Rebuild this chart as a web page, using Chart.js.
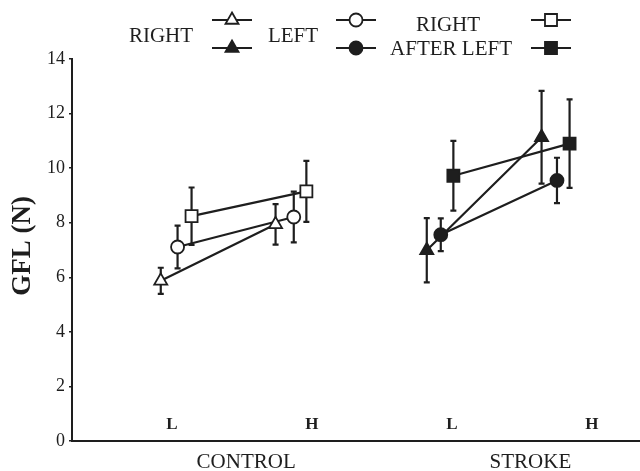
<!DOCTYPE html>
<html>
<head>
<meta charset="utf-8">
<script src="https://cdn.jsdelivr.net/npm/chart.js@4"></script>
<style>
  html, body { margin: 0; padding: 0; background: #fff; overflow: hidden; }
  canvas { display: block; }
</style>
</head>
<body>
<canvas id="chart" width="640" height="471"></canvas>
<script>
// groups and level labels on the x axis
var groups = ['CONTROL', 'STROKE'];
var groupPos = [1.53, 3.56];
var levels = ['L', 'H', 'L', 'H'];
var levelPos = [1, 2, 3, 4];

// x positions of each series (control L, control H, stroke L, stroke H)
var rightX = [0.92, 1.74, 2.82, 3.64];
var leftX = [1.04, 1.87, 2.92, 3.75];
var ralX = [1.14, 1.96, 3.01, 3.84];

// GFL (N) means and error bars
var rightVals = [5.87, 7.94, 6.99, 11.13];
var rightErr = [0.48, 0.74, 1.18, 1.70];
var leftVals = [7.11, 8.21, 7.56, 9.55];
var leftErr = [0.78, 0.93, 0.60, 0.83];
var ralVals = [8.24, 9.15, 9.72, 10.90];
var ralErr = [1.05, 1.12, 1.28, 1.62];

var ink = '#1e1e1e';
var serif = '"Liberation Serif", "DejaVu Serif", serif';

function buildPoints(xs, ys) {
    // control pair, gap, stroke pair
    return [
        {x: xs[0], y: ys[0]}, {x: xs[1], y: ys[1]},
        {x: 2.4, y: null},
        {x: xs[2], y: ys[2]}, {x: xs[3], y: ys[3]}
    ];
}

var fills = ['#fff', '#fff', '#fff', ink, ink];

function makeSet(label, xs, ys, errs, style, radius) {
    return {
        label: label,
        data: buildPoints(xs, ys),
        errors: errs,
        xs: xs,
        ys: ys,
        showLine: true,
        spanGaps: false,
        borderColor: ink,
        borderWidth: 2.2,
        pointStyle: style,
        pointRadius: radius,
        pointBorderWidth: 1.8,
        pointBorderColor: ink,
        pointBackgroundColor: fills
    };
}

var errorBars = {
    id: 'errorBars',
    beforeDatasetsDraw: function (chart) {
        var ctx = chart.ctx, xs = chart.scales.x, ys = chart.scales.y;
        ctx.save();
        ctx.strokeStyle = ink;
        ctx.lineWidth = 2.2;
        chart.data.datasets.forEach(function (ds) {
            ds.ys.forEach(function (v, i) {
                var px = xs.getPixelForValue(ds.xs[i]);
                var top = ys.getPixelForValue(v + ds.errors[i]);
                var bot = ys.getPixelForValue(v - ds.errors[i]);
                ctx.beginPath();
                ctx.moveTo(px, top); ctx.lineTo(px, bot);
                ctx.moveTo(px - 3, top); ctx.lineTo(px + 3, top);
                ctx.moveTo(px - 3, bot); ctx.lineTo(px + 3, bot);
                ctx.stroke();
            });
        });
        ctx.restore();
    }
};

var labels = {
    id: 'labels',
    afterDraw: function (chart) {
        var ctx = chart.ctx, xs = chart.scales.x;
        ctx.save();
        ctx.fillStyle = ink;
        ctx.textAlign = 'center';
        ctx.textBaseline = 'middle';

        ctx.font = 'bold 17px ' + serif;
        levels.forEach(function (t, i) {
            ctx.fillText(t, xs.getPixelForValue(levelPos[i]), 425);
        });

        ctx.font = '21px ' + serif;
        groups.forEach(function (t, i) {
            ctx.fillText(t, xs.getPixelForValue(groupPos[i]), 462);
        });

        // y title
        ctx.save();
        ctx.translate(23, 246);
        ctx.rotate(-Math.PI / 2);
        ctx.font = 'bold 27px ' + serif;
        ctx.fillText('GFL (N)', 0, 0);
        ctx.restore();

        // legend: open markers = control row, filled = stroke row
        ctx.font = '21px ' + serif;
        ctx.fillText('RIGHT', 161, 36);
        ctx.fillText('LEFT', 293, 36);
        ctx.fillText('RIGHT', 448, 25);
        ctx.fillText('AFTER LEFT', 451, 49);

        var keys = [
            {x: 232, style: 'triangle', r: 7.5},
            {x: 356, style: 'circle', r: 6.5},
            {x: 551, style: 'rect', r: 8.5}
        ];
        var rows = [{y: 20, fill: '#fff'}, {y: 48, fill: ink}];
        keys.forEach(function (k) {
            rows.forEach(function (row) {
                ctx.strokeStyle = ink;
                ctx.lineWidth = 2.2;
                ctx.beginPath();
                ctx.moveTo(k.x - 20, row.y);
                ctx.lineTo(k.x + 20, row.y);
                ctx.stroke();
                ctx.fillStyle = row.fill;
                ctx.lineWidth = 1.8;
                Chart.helpers.drawPoint(ctx, {pointStyle: k.style, radius: k.r, borderWidth: 1.8, rotation: 0}, k.x, row.y);
                ctx.fillStyle = ink;
            });
        });
        ctx.restore();
    }
};

new Chart(document.getElementById('chart'), {
    type: 'scatter',
    data: {
        datasets: [
            makeSet('RIGHT', rightX, rightVals, rightErr, 'triangle', 7.5),
            makeSet('LEFT', leftX, leftVals, leftErr, 'circle', 6.5),
            makeSet('RIGHT AFTER LEFT', ralX, ralVals, ralErr, 'rect', 8.5)
        ]
    },
    options: {
        responsive: false,
        animation: false,
        layout: { autoPadding: false, padding: { top: 59, right: 0, left: 0, bottom: 0 } },
        plugins: { legend: { display: false }, tooltip: { enabled: false } },
        scales: {
            x: {
                type: 'linear',
                min: 0.286,
                max: 4.343,
                ticks: { display: false },
                grid: { display: false, drawTicks: false },
                border: { display: true, color: ink, width: 2 },
                afterFit: function (scale) { scale.height = 30; }
            },
            y: {
                min: 0,
                max: 14,
                ticks: {
                    stepSize: 2,
                    color: ink,
                    padding: 4,
                    font: { family: serif, size: 18 }
                },
                grid: { drawOnChartArea: false, drawTicks: true, tickLength: 3, color: ink, lineWidth: 1.5 },
                border: { display: true, color: ink, width: 2 },
                afterFit: function (scale) { scale.width = 72; }
            }
        }
    },
    plugins: [errorBars, labels]
});
</script>
</body>
</html>
